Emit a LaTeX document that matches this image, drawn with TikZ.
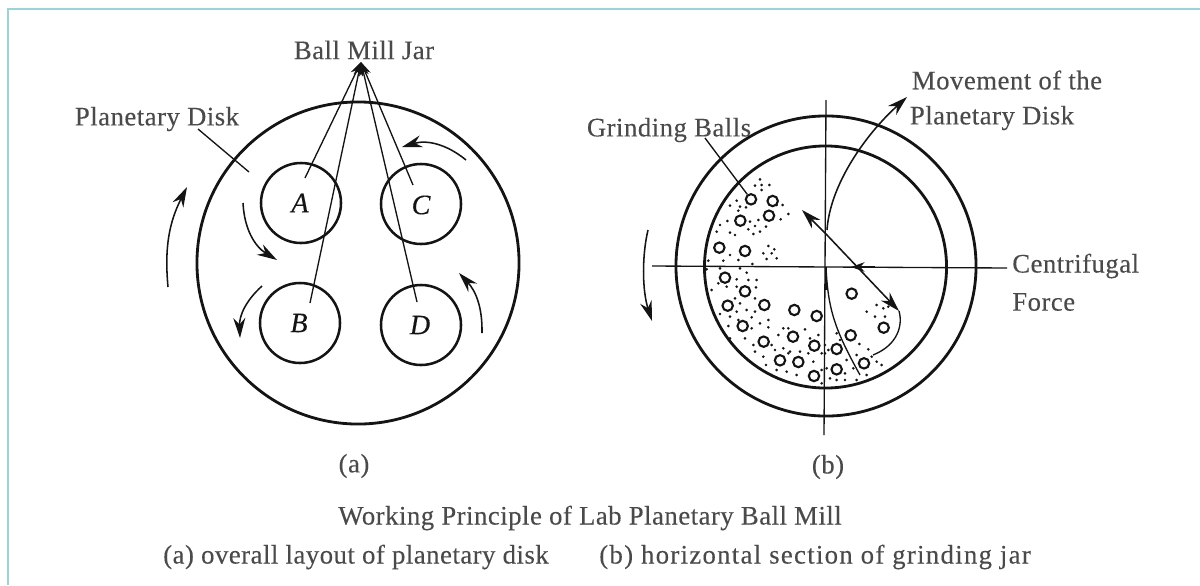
\documentclass[tikz,border=0pt]{standalone}
\usepackage{fontspec}
\setmainfont[LetterSpace=1.9,FakeBold=0.25]{Liberation Serif}
\usetikzlibrary{arrows.meta, calc, positioning}
\definecolor{framecol}{HTML}{9AD4D8}
\definecolor{inkcol}{HTML}{141414}
\definecolor{labcol}{HTML}{4A4A4A}

\begin{document}
\begin{tikzpicture}[
    x=0.025cm, y=-0.025cm,
    lab/.style={font=\fontsize{19}{22}\selectfont, text=labcol, inner sep=0pt},
    widelab/.style={font=\fontsize{19}{22}\selectfont\addfontfeature{LetterSpace=4.9}, text=labcol, inner sep=0pt},
    letter/.style={font=\fontsize{20}{22}\selectfont\itshape, text=inkcol, inner sep=0pt},
    disk/.style={circle, draw=inkcol, line width=2pt, inner sep=0pt},
    jar/.style={circle, draw=inkcol, line width=1.8pt, inner sep=0pt, minimum size=2cm},
    ball/.style={circle, draw=inkcol, line width=1.5pt, inner sep=0pt, minimum size=0.26cm},
    grain/.style={circle, fill=inkcol, inner sep=0pt, minimum size=2.1pt},
    thin line/.style={draw=inkcol, line width=0.95pt},
    arr/.style={-{Stealth[length=5mm, width=3mm]}, draw=inkcol, line width=1.1pt},
    tip/.style={-{Stealth[length=3.4mm, width=2.4mm]}, thin line}
]
    \useasboundingbox (0,0) rectangle (1200,585);

    % Frame
    \draw[framecol, line width=1.2pt] (8,585) -- (8,9) -- (1200,9);

    % Left picture
    \node[disk, minimum size=8.05cm] (plate) at (358,263) {};
    \node[jar] (jarA) at (301,203) {};
    \node[jar] (jarB) at (300,323) {};
    \node[jar] (jarC) at (421,204) {};
    \node[jar] (jarD) at (421,325) {};
    \node[letter] (letA) at (300,203) {A};
    \node[letter] (letB) at (299,323) {B};
    \node[letter] (letC) at (421,205) {C};
    \node[letter] (letD) at (420,325) {D};

    \node[lab] (jarlab) at (364,50) {Ball Mill Jar};
    \node[lab] (platelab) at (157,119) {Planetary Disk};
    \coordinate (apex) at (361,62);
    \coordinate (endA) at (305,178);
    \coordinate (endB) at (310,303);
    \coordinate (endC) at (413,185);
    \coordinate (endD) at (417,302);
    \coordinate (plateend) at (249,172);
    \coordinate (platestart) at (198,129);
    \foreach \e in {endA, endB, endC, endD}
        \draw[tip] (\e) -- (apex);
    \draw[thin line] (platestart) -- (plateend);

    % Rotation arrows, left picture
    \coordinate (r1a) at (168,287);
    \coordinate (r1b) at (187,187);
    \coordinate (r2a) at (243,203);
    \coordinate (r2b) at (277,260);
    \coordinate (r3a) at (262,286);
    \coordinate (r3b) at (240,338);
    \coordinate (r4a) at (466,160);
    \coordinate (r4b) at (402,147);
    \coordinate (r5a) at (482,333);
    \coordinate (r5b) at (459,273);
    \draw[arr] (r1a) to[bend left=16] (r1b);
    \draw[arr] (r2a) to[bend right=28] (r2b);
    \draw[arr] (r3a) to[bend right=25] (r3b);
    \draw[arr] (r4a) to[bend right=28] (r4b);
    \draw[arr] (r5a) to[bend right=22] (r5b);

    % Right picture
    \node[disk, minimum size=7.5cm] (shell) at (826,266) {};
    \node[disk, minimum size=6.05cm] (lining) at (825.5,267) {};

    \coordinate (vtop) at (826,100);
    \coordinate (vbot) at (824,435);
    \coordinate (hleft) at (652,266);
    \coordinate (hright) at (1007,268);
    \draw[thin line] (vtop) -- (vbot);
    \draw[thin line] (hleft) -- (hright);

    \node[lab, anchor=west] (forcelab1) at (1012,266) {Centrifugal};
    \node[lab, anchor=west] (forcelab2) at (1012,302) {Force};
    \node[lab] (movelab1) at (1007,80) {Movement of the};
    \node[lab] (movelab2) at (992,118) {Planetary Disk};
    \node[lab] (ballslab) at (669,130) {Grinding Balls};

    \coordinate (c1) at (827,230);
    \coordinate (c2) at (907,97);
    \coordinate (f1) at (802,210);
    \coordinate (f0) at (826,234);
    \coordinate (f2) at (899,311);
    \coordinate (f3) at (875,267);
    \coordinate (f4) at (851,267);
    \coordinate (w1) at (873,355);
    \coordinate (s1) at (826,267);
    \coordinate (s2) at (860,375);

    \draw[arr] (c1) .. controls (830,185) and (865,135) .. (c2);
    \draw[arr] (f0) -- (f1);
    \draw[arr] (f0) -- (f2);
    \draw[tip] (f3) -- (f4);
    \draw[thin line] (f2) .. controls (903,325) and (898,345) .. (w1);
    \draw[thin line] (s1) .. controls (828,310) and (835,330) .. (s2);
    \draw[line width=1.3pt, draw=inkcol] (s1) -- (826,290);

    \coordinate (r6a) at (648,230);
    \coordinate (r6b) at (652,321);
    \draw[arr] (r6a) .. controls (642,255) and (642,290) .. (r6b);

    \begin{scope}[shift={(640,90)}, scale=1/3]
        \foreach \x/\y [count=\i] in {333/328, 398/333, 301/392, 387/377, 238/473, 315/483, 255/563, 315/604, 263/647, 373/645, 308/708, 463/660, 530/678, 635/611, 731/713, 632/736, 459/740, 371/755, 523/767, 590/777, 420/811, 475/816, 672/820, 590/838, 522/858}
            \node[ball] (ball\i) at (\x,\y) {};
        \foreach \x/\y [count=\i] in {360/268, 345/287, 365/285, 388/285, 365/300, 290/332, 270/347, 300/350, 318/352, 295/362, 428/345, 445/372, 422/388, 410/345, 262/393, 240/405, 230/425, 270/428, 285/435, 355/390, 330/395, 345/408, 325/418, 360/425, 340/432, 378/410, 385/468, 370/490, 395/490, 380/507, 410/505, 403/478, 270/495, 295/510, 250/512, 205/512, 200/538, 240/535, 300/535, 337/522, 320/548, 325/570, 350/570, 348/592, 290/568, 235/580, 215/600, 260/590, 290/590, 345/625, 285/625, 300/640, 320/660, 290/665, 345/665, 240/672, 270/680, 335/682, 385/690, 360/700, 385/712, 265/708, 295/690, 335/715, 270/745, 315/745, 430/715, 445/715, 495/718, 415/735, 535/735, 510/745, 340/765, 395/765, 345/785, 405/780, 430/775, 450/785, 480/785, 505/790, 370/800, 445/790, 378/825, 410/840, 440/845, 470/855, 520/815, 545/790, 555/765, 590/730, 600/750, 565/780, 555/790, 658/762, 685/778, 650/795, 620/810, 615/850, 640/835, 560/835, 545/840, 570/865, 545/880, 590/870, 615/870, 650/870, 680/855, 710/815, 725/825, 695/800, 680/665, 710/645, 730/655, 705/680, 735/680, 745/650}
            \node[grain] (grain\i) at (\x,\y) {};
    \end{scope}
    \coordinate (ballsstart) at (705,138);
    \draw[thin line] (ballsstart) -- (ball1);

    % Captions
    \node[lab] (capa) at (354,466) {(a)};
    \node[lab] (capb) at (828,467) {(b)};
    \node[lab] (title) at (590,518) {Working Principle of Lab Planetary Ball Mill};
    \node[lab] (suba) at (356,557) {(a) overall layout of planetary disk};
    \node[widelab] (subb) at (815,557) {(b) horizontal section of grinding jar};

\end{tikzpicture}
\end{document}
